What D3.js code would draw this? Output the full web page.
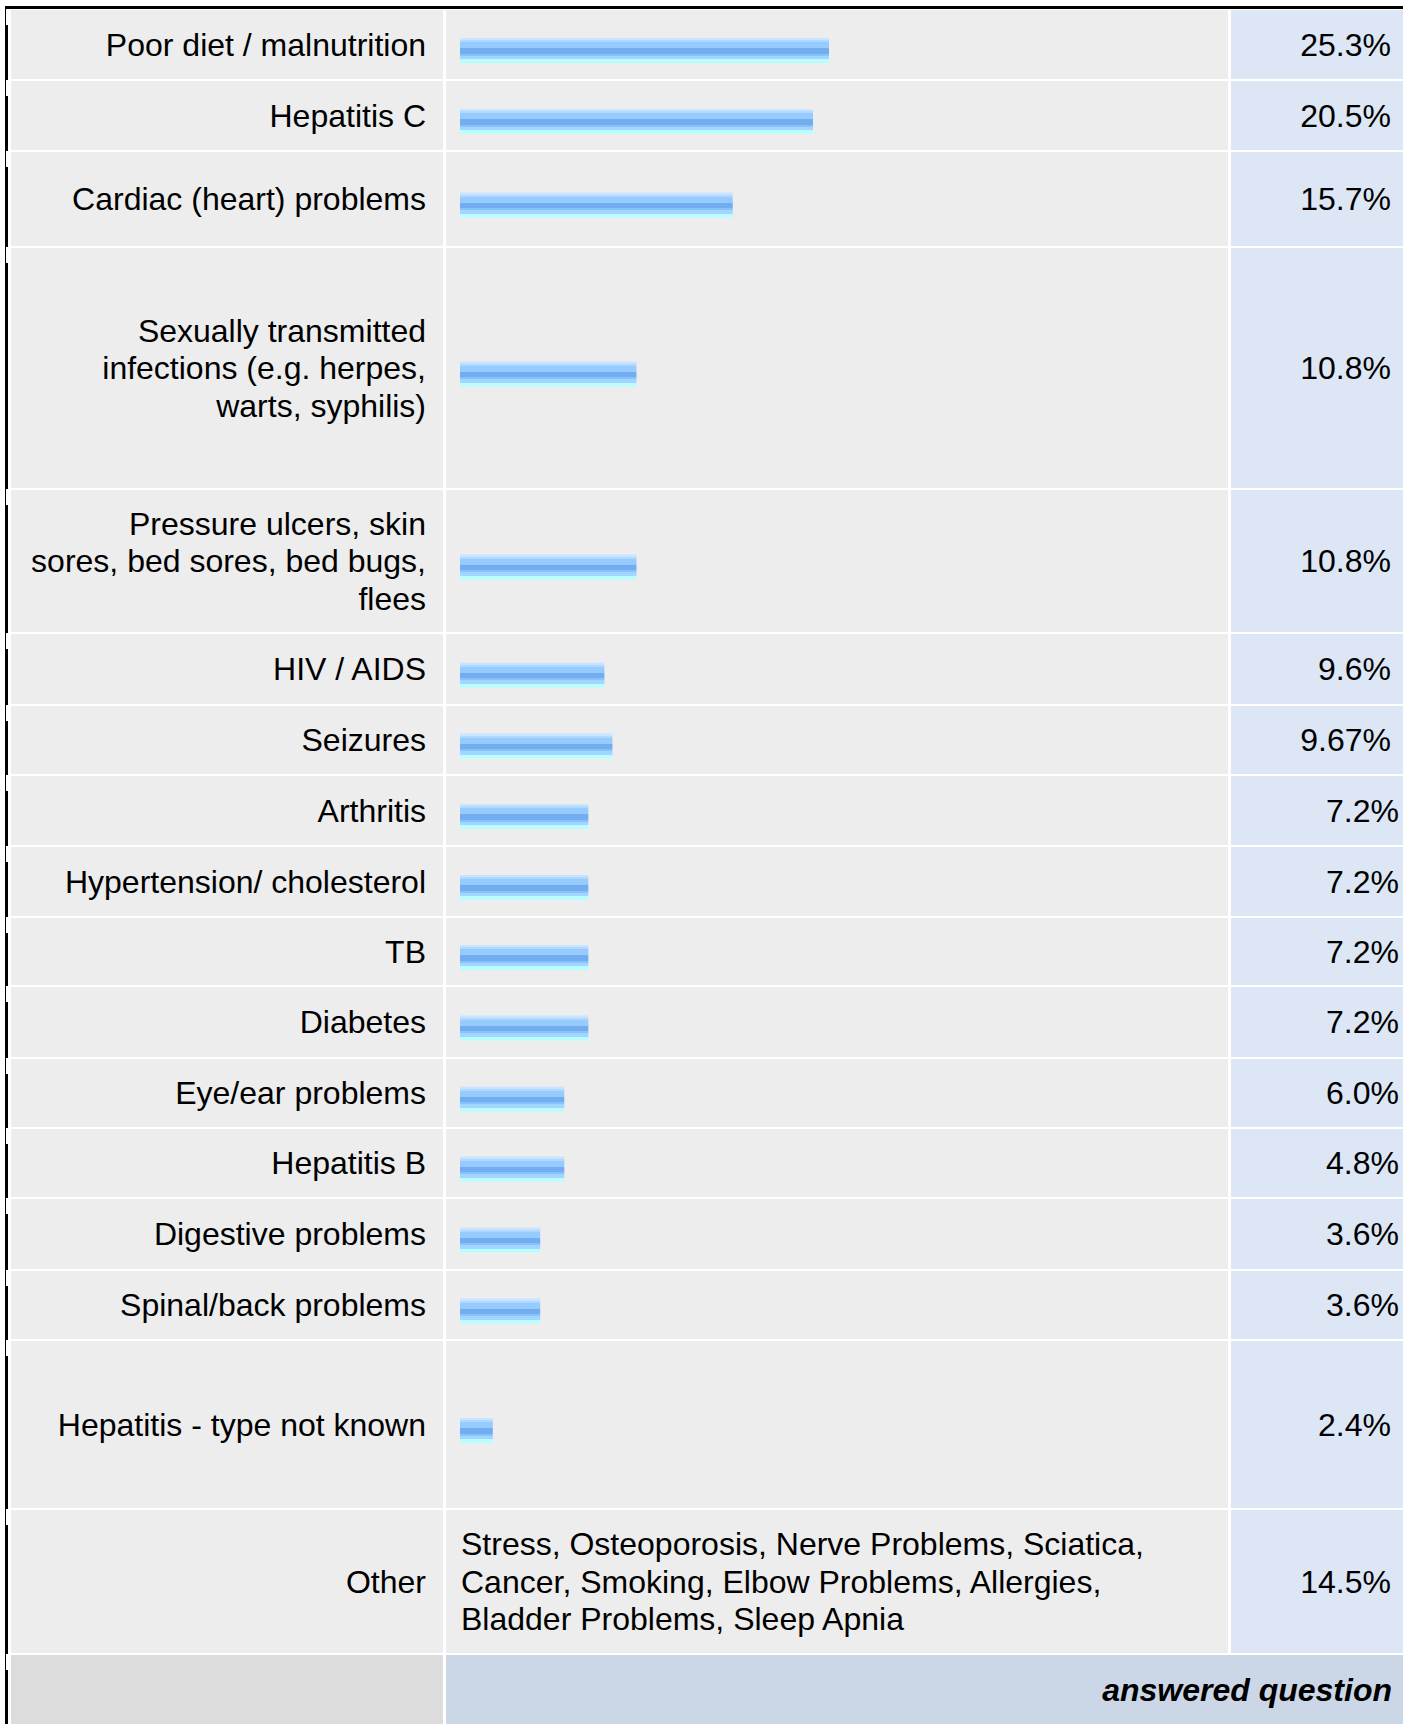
<!DOCTYPE html>
<html>
<head>
<meta charset="utf-8">
<script src="https://cdn.jsdelivr.net/npm/d3@7"></script>
<style>
  body { margin: 0; background: #fff; }
  svg { display: block; }
</style>
</head>
<body>
<div id="chart"></div>
<script>
// ---- data ----
var categories = [
  "Poor diet / malnutrition",
  "Hepatitis C",
  "Cardiac (heart) problems",
  "Sexually transmitted\ninfections (e.g. herpes,\nwarts, syphilis)",
  "Pressure ulcers, skin\nsores, bed sores, bed bugs,\nflees",
  "HIV / AIDS",
  "Seizures",
  "Arthritis",
  "Hypertension/ cholesterol",
  "TB",
  "Diabetes",
  "Eye/ear problems",
  "Hepatitis B",
  "Digestive problems",
  "Spinal/back problems",
  "Hepatitis - type not known",
  "Other"
]
var valueLabels = ["25.3%", "20.5%", "15.7%", "10.8%", "10.8%", "9.6%", "9.67%", "7.2%", "7.2%", "7.2%", "7.2%", "6.0%", "4.8%", "3.6%", "3.6%", "2.4%", "14.5%"]
// bar lengths as drawn (they do not follow the printed percentages exactly)
var barValues = [25.3, 24.2, 18.7, 12.1, 12.1, 9.9, 10.45, 8.8, 8.8, 8.8, 8.8, 7.15, 7.15, 5.5, 5.5, 2.25, null]
var otherText = [
  "Stress, Osteoporosis, Nerve Problems, Sciatica,",
  "Cancer, Smoking, Elbow Problems, Allergies,",
  "Bladder Problems, Sleep Apnia"
]
var footerText = "answered question"

// ---- layout ----
var W = 1403, H = 1724
// row top / bottom edges (the table rows are not all the same height)
var rowEdges = [[10, 79], [81, 150], [152, 246], [248, 488], [490, 632], [634, 704], [706, 774],
  [776, 845], [847, 916], [918, 985], [987, 1057], [1059, 1127], [1129, 1197], [1199, 1269],
  [1271, 1339], [1341, 1508], [1510, 1653], [1655, 1724]]
var col = { labelX: 11, labelW: 432, barX: 446, barW: 782, valX: 1231, valW: W - 1231 }
var shiftedValues = [7, 8, 9, 10, 11, 12, 13, 14] // these cells sit a bit further right
var fontFamily = "'Liberation Sans', Arial, Helvetica, sans-serif"

var svg = d3.select("#chart").append("svg")
  .attr("width", W)
  .attr("height", H)

var defs = svg.append("defs")
var grad = defs.append("linearGradient")
  .attr("id", "barGrad")
  .attr("x1", 0).attr("y1", 0).attr("x2", 0).attr("y2", 1)
var stops = [
  [0, "#c9e4ff"], [0.09, "#c9e4ff"], [0.09, "#b1d9ff"], [0.17, "#b1d9ff"],
  [0.17, "#96cbff"], [0.41, "#96cbff"], [0.41, "#72adf0"], [0.63, "#72adf0"],
  [0.63, "#88c2fa"], [0.71, "#88c2fa"], [0.71, "#a2d5ff"], [0.85, "#a2d5ff"],
  [0.85, "#b8feff"], [1, "#b8feff"]
]
grad.selectAll("stop").data(stops).enter().append("stop")
  .attr("offset", function (d) { return d[0] })
  .attr("stop-color", function (d) { return d[1] })

var xScale = d3.scaleLinear().domain([0, 25.3]).range([0, 369])

var rows = categories.map(function (c, i) {
  return { label: c, value: valueLabels[i], bar: barValues[i], top: rowEdges[i][0], bottom: rowEdges[i][1], i: i }
})

// left border + top border
svg.append("rect").attr("x", 5).attr("y", 6).attr("width", W - 5).attr("height", 3).attr("fill", "#000")
svg.append("rect").attr("x", 5).attr("y", 6).attr("width", 3).attr("height", H - 6).attr("fill", "#000")

var g = svg.append("g")

var row = g.selectAll("g.row")
  .data(rows)
  .enter()
  .append("g")
  .attr("class", "row")

row.append("rect")
  .attr("x", col.labelX).attr("y", function (d) { return d.top })
  .attr("width", col.labelW).attr("height", function (d) { return d.bottom - d.top })
  .attr("fill", "#ededed")
row.append("rect")
  .attr("x", col.barX).attr("y", function (d) { return d.top })
  .attr("width", col.barW).attr("height", function (d) { return d.bottom - d.top })
  .attr("fill", "#ededed")
row.append("rect")
  .attr("x", col.valX).attr("y", function (d) { return d.top })
  .attr("width", col.valW).attr("height", function (d) { return d.bottom - d.top })
  .attr("fill", "#dce6f4")

// little white notches in the left border at each row start
row.append("rect")
  .attr("x", 6).attr("y", function (d) { return d.top - 1 })
  .attr("width", 3).attr("height", 16)
  .attr("fill", "#fff")

// labels (may wrap)
row.each(function (d) {
  var lines = d.label.split("\n")
  var cy = (d.top + d.bottom) / 2
  var lh = 37.4
  var t = d3.select(this).append("text")
    .attr("text-anchor", "end")
    .attr("font-family", fontFamily)
    .attr("font-size", 32)
    .attr("fill", "#000")
  lines.forEach(function (ln, k) {
    t.append("tspan")
      .attr("x", 426)
      .attr("y", cy + (k - (lines.length - 1) / 2) * lh)
      .attr("dy", "0.35em")
      .text(ln)
  })
})

// bars
row.filter(function (d) { return d.bar != null })
  .append("rect")
  .attr("x", 460)
  .attr("y", function (d) { return (d.top + d.bottom) / 2 - 6.5 })
  .attr("width", function (d) { return xScale(d.bar) })
  .attr("height", 25)
  .attr("fill", "url(#barGrad)")

// "Other" free text in the bar column
row.filter(function (d) { return d.bar == null })
  .each(function (d) {
    var cy = (d.top + d.bottom) / 2
    var t = d3.select(this).append("text")
      .attr("font-family", fontFamily)
      .attr("font-size", 32)
      .attr("fill", "#000")
    otherText.forEach(function (ln, k) {
      t.append("tspan")
        .attr("x", 461)
        .attr("y", cy + (k - 1) * 37.4)
        .attr("dy", "0.35em")
        .text(ln)
    })
  })

// value column
row.append("text")
  .attr("text-anchor", "end")
  .attr("x", function (d) { return shiftedValues.includes(d.i) ? 1399 : 1391 })
  .attr("y", function (d) { return (d.top + d.bottom) / 2 })
  .attr("dy", "0.35em")
  .attr("font-family", fontFamily)
  .attr("font-size", 32)
  .attr("fill", "#000")
  .text(function (d) { return d.value })

// footer row
var last = rowEdges[rowEdges.length - 1]
var foot = svg.append("g")
foot.append("rect").attr("x", col.labelX).attr("y", last[0])
  .attr("width", col.labelW).attr("height", last[1] - last[0]).attr("fill", "#dcdcdc")
foot.append("rect").attr("x", col.barX).attr("y", last[0])
  .attr("width", W - col.barX).attr("height", last[1] - last[0]).attr("fill", "#cbd7e6")
foot.append("rect").attr("x", 6).attr("y", last[0] - 1)
  .attr("width", 3).attr("height", 16).attr("fill", "#fff")
foot.append("text")
  .attr("text-anchor", "end")
  .attr("x", 1392)
  .attr("y", (last[0] + last[1]) / 2)
  .attr("dy", "0.35em")
  .attr("font-family", fontFamily)
  .attr("font-size", 32)
  .attr("font-weight", "bold")
  .attr("font-style", "italic")
  .attr("fill", "#000")
  .text(footerText)
</script>
</body>
</html>
